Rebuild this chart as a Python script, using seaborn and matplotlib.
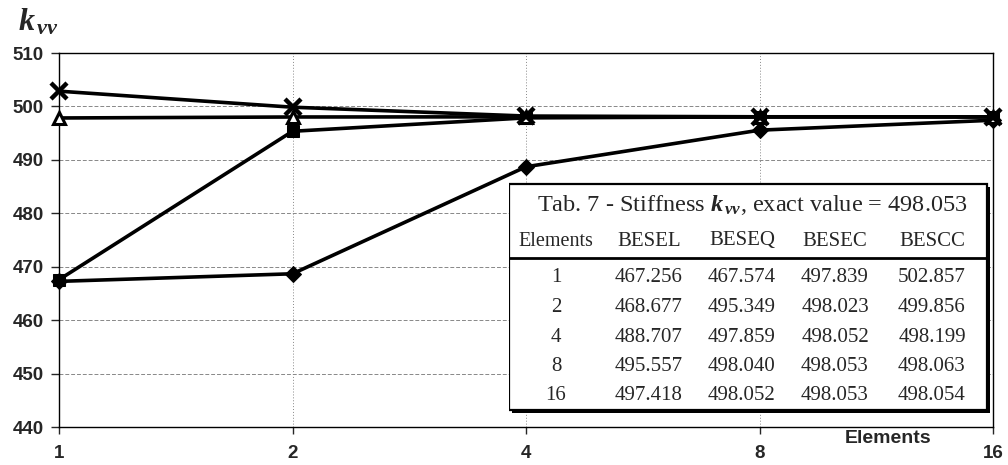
import pandas as pd
import seaborn as sns
import matplotlib.pyplot as plt
from matplotlib.patches import Rectangle

elements = [1, 2, 4, 8, 16]
besel = [467.256, 468.677, 488.707, 495.557, 497.418]
beseq = [467.574, 495.349, 497.859, 498.040, 498.052]
besec = [497.839, 498.023, 498.052, 498.053, 498.053]
bescc = [502.857, 499.856, 498.199, 498.063, 498.054]
series_names = ['BESEL', 'BESEQ', 'BESEC', 'BESCC']
exact_value = '498.053'
y_ticks = [440, 450, 460, 470, 480, 490, 500, 510]

sns.set_style('ticks')
plt.rcParams['font.family'] = ['Liberation Sans', 'DejaVu Sans']
plt.rcParams['mathtext.fontset'] = 'custom'
plt.rcParams['mathtext.rm'] = 'Liberation Serif'
plt.rcParams['mathtext.it'] = 'Liberation Serif:italic:bold'

df = pd.DataFrame({'pos': range(len(elements)), 'BESEL': besel, 'BESEQ': beseq,
                   'BESEC': besec, 'BESCC': bescc})

fig = plt.figure(figsize=(10.08, 4.65), dpi=100)
ax = fig.add_axes([59/1008, 1 - 427/465, 934/1008, 374/465])

styles = {
    'BESEL': dict(marker='D', markersize=8, markerfacecolor='black'),
    'BESEQ': dict(marker='s', markersize=8, markerfacecolor='black'),
    'BESEC': dict(marker='^', markersize=8.5, markerfacecolor='white', markeredgewidth=2.2),
    'BESCC': dict(marker='x', markersize=11, markeredgewidth=3.2),
}
for name in series_names:
    sns.lineplot(data=df, x='pos', y=name, ax=ax, color='black', linewidth=2.6,
                 markeredgecolor='black', clip_on=False, zorder=3, **styles[name])

ax.set_xlim(0, len(elements) - 1)
ax.set_ylim(440, 510)
ax.set_xticks(range(len(elements)))
ax.set_xticklabels([str(e) for e in elements])
ax.set_yticks(y_ticks)
ax.set_xlabel('')
ax.set_ylabel('')
ax.yaxis.grid(True, linestyle=(0, (4, 2)), color='#888888', linewidth=0.7)
ax.xaxis.grid(True, linestyle=(0, (1, 2)), color='#888888', linewidth=0.7)
ax.tick_params(axis='y', direction='out', length=6, width=1, labelsize=13.5, pad=5)
ax.tick_params(axis='x', direction='out', length=5, width=1, labelsize=13.5, pad=8)
for lab in ax.get_xticklabels() + ax.get_yticklabels():
    lab.set_fontweight('bold')
for sp in ax.spines.values():
    sp.set_visible(True)
    sp.set_linewidth(1)
    sp.set_color('black')

fig.text(18/1008, 1 - 22/465, r'$k_{\,vv}$', fontsize=23, ha='left', va='center')
fig.text(888/1008, 1 - 438/465, 'Elements', fontsize=14, fontweight='bold',
         ha='center', va='center')

# table inset, coordinates in pixels
tx = fig.add_axes([509/1008, 1 - 414/465, 484/1008, 232/465])
tx.set_xlim(509, 993)
tx.set_ylim(414, 182)
tx.axis('off')
tx.add_patch(Rectangle((512, 187), 478, 226, facecolor='black', edgecolor='none'))
tx.add_patch(Rectangle((509, 184), 478, 226, facecolor='white', edgecolor='black', linewidth=1.6))
tx.plot([509, 987], [258, 258], color='black', linewidth=2)

serif = ['Liberation Serif', 'DejaVu Serif']
tx.text(752, 205, 'Tab. 7 - Stiffness $k_{\\,vv}$, exact value = ' + exact_value,
        family=serif, fontsize=17.5, ha='center', va='center')
col_x = [556, 649, 742, 835, 932]
tx.text(col_x[0], 241, 'Elements', family=serif, fontsize=14.5, ha='center', va='center')
for cx, name in zip(col_x[1:], series_names):
    tx.text(cx, 241, name, family=serif, fontsize=15, ha='center', va='center')
values = [besel, beseq, besec, bescc]
for i, e in enumerate(elements):
    ry = 278 + 29.5 * i
    tx.text(col_x[0], ry, str(e), family=serif, fontsize=15, ha='center', va='center')
    for cx, vals in zip(col_x[1:], values):
        tx.text(cx, ry, f'{vals[i]:.3f}', family=serif, fontsize=15, ha='center', va='center')

plt.savefig('out.png', dpi=100)
